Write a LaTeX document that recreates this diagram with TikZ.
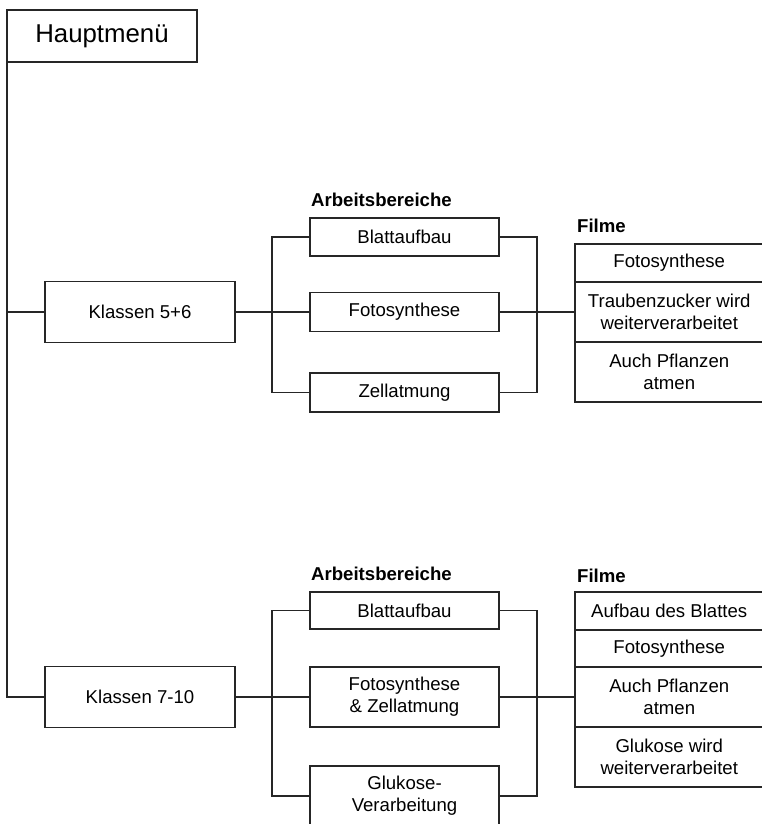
\documentclass[tikz,border=0pt]{standalone}
\usepackage{fontspec}
\setmainfont{Liberation Sans}
\begin{document}
\begin{tikzpicture}[x=1pt,y=-1pt,
  box/.style={draw=black!85,line width=1.3pt,inner sep=0pt,align=center,minimum width=190pt,font=\fontsize{18.6}{22}\selectfont},
  abox/.style={box,minimum width=189pt},
  fbox/.style={box,minimum width=188.5pt},
  conn/.style={draw=black!85,line width=1.3pt},
  lbl/.style={inner sep=0pt,anchor=west,font=\bfseries\fontsize{18.6}{22}\selectfont}]
\clip (0,0) rectangle (762,824);
\useasboundingbox (0,0) rectangle (762,824);
% main menu
\node[box,line width=2.2pt,minimum width=190pt,minimum height=52pt,font=\fontsize{25.8}{30}\selectfont] (hm) at (102,36) {Hauptmenü};
% classes
\node[box,minimum height=61pt] (k1) at (140,312) {Klassen 5+6};
\node[box,minimum height=61pt] (k2) at (140,697) {Klassen 7-10};
% group 1
\node[lbl] (ab1) at (311,200) {Arbeitsbereiche};
\node[abox,minimum height=38pt] (a1) at (404.5,237) {Blattaufbau};
\node[abox,minimum height=39pt] (a2) at (404.5,312) {Fotosynthese};
\node[abox,minimum height=39pt] (a3) at (404.5,392.5) {Zellatmung};
\node[lbl] (fl1) at (577,226) {Filme};
\node[fbox,minimum height=38pt] (f1) at (669.25,263) {Fotosynthese};
\node[fbox,minimum height=60pt] (f2) at (669.25,312) {Traubenzucker wird\\weiterverarbeitet};
\node[fbox,minimum height=60pt] (f3) at (669.25,372) {Auch Pflanzen\\atmen};
% group 2
\node[lbl] (ab2) at (311,574) {Arbeitsbereiche};
\node[abox,minimum height=37pt] (b1) at (404.5,610.5) {Blattaufbau};
\node[abox,minimum height=60pt] (b2) at (404.5,697) {Fotosynthese\\\& Zellatmung};
\node[abox,minimum height=60pt] (b3) at (404.5,796) {Glukose-\\Verarbeitung};
\node[lbl] (fl2) at (577,576) {Filme};
\node[fbox,minimum height=38pt] (g1) at (669.25,611) {Aufbau des Blattes};
\node[fbox,minimum height=37pt] (g2) at (669.25,648.5) {Fotosynthese};
\node[fbox,minimum height=60pt] (g3) at (669.25,697) {Auch Pflanzen\\atmen};
\node[fbox,minimum height=60pt] (g4) at (669.25,757) {Glukose wird\\weiterverarbeitet};
% connectors
\coordinate (hmb) at ([xshift=1pt]hm.south west);
\draw[conn] (hmb) |- (k1.west);
\draw[conn] (hmb) |- (k2.west);
\coordinate (lb1) at (272,312);
\coordinate (rb1) at (537,312);
\draw[conn] (a1.west) -| (lb1) |- (a3.west);
\draw[conn] (k1.east) -- (lb1) -- (a2.west);
\draw[conn] (a1.east) -| (rb1) |- (a3.east);
\draw[conn] (a2.east) -- (rb1) -- (f2.west);
\coordinate (lb2) at (272,697);
\coordinate (rb2) at (537,697);
\draw[conn] (b1.west) -| (lb2) |- (b3.west);
\draw[conn] (k2.east) -- (lb2) -- (b2.west);
\draw[conn] (b1.east) -| (rb2) |- (b3.east);
\draw[conn] (b2.east) -- (rb2) -- (g3.west);
\end{tikzpicture}
\end{document}
